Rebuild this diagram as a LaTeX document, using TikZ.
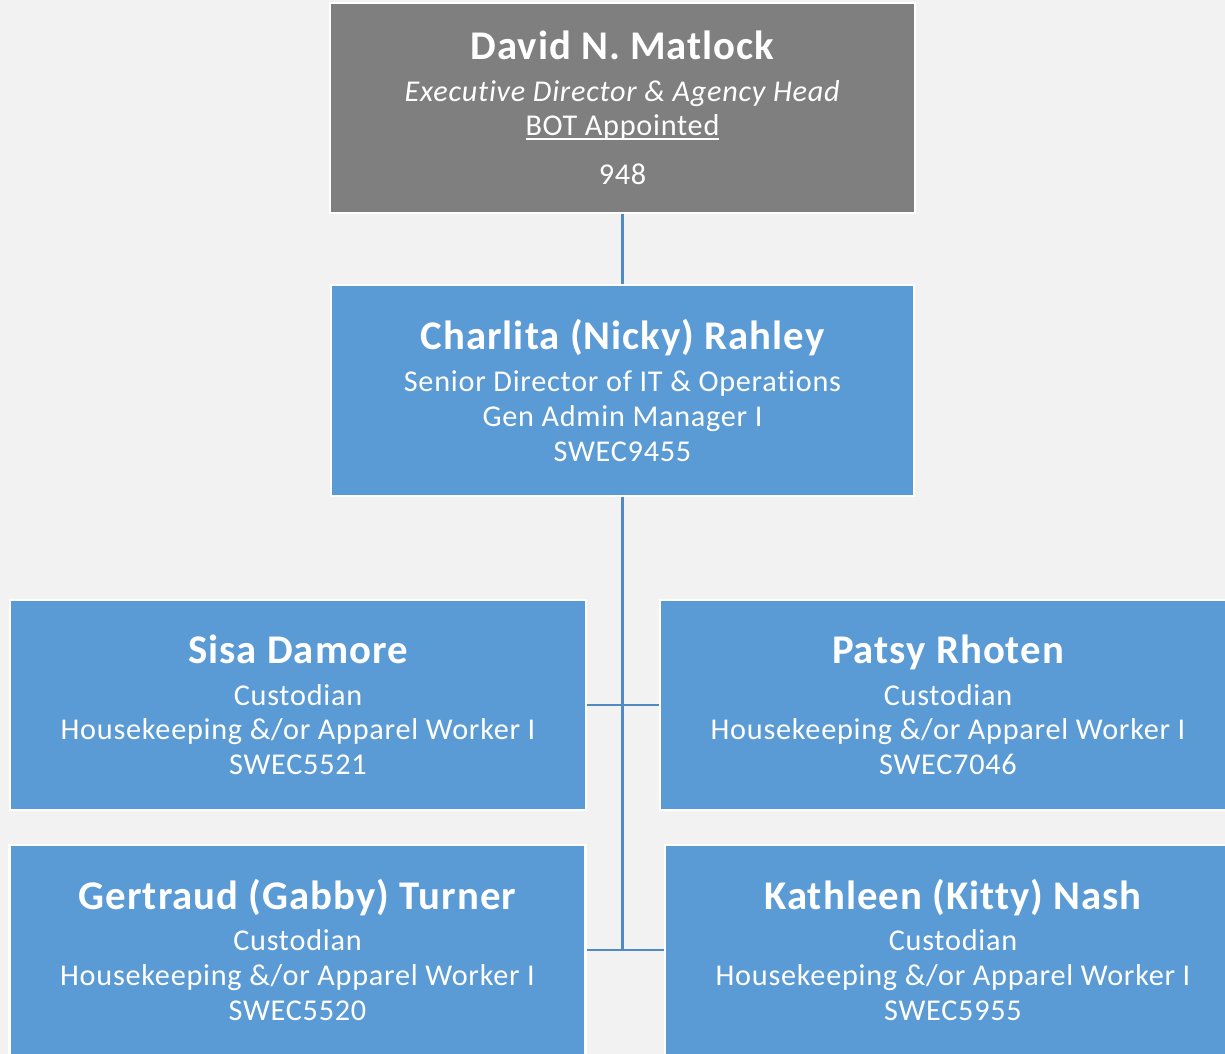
\documentclass[tikz,border=0pt]{standalone}
\usepackage{fontspec}
\setmainfont{Carlito}[LetterSpace=2.5, Ligatures=NoCommon]
\usepackage{xcolor}
\usetikzlibrary{positioning}
\definecolor{bgGray}{HTML}{F2F2F2}
\definecolor{headGray}{HTML}{7F7F7F}
\definecolor{staffBlue}{HTML}{5B9BD5}
\definecolor{linkBlue}{RGB}{80,137,196}
\newcommand{\pname}[1]{{\fontsize{23.2}{27}\selectfont\bfseries #1}\\[3.8pt]}
\newcommand{\botline}[1]{\setbox0\hbox{#1}\rlap{\rule[-2.2pt]{\wd0}{0.75pt}}\box0}

\begin{document}
\begin{tikzpicture}[
  orgbox/.style={draw=white, line width=1.3pt, fill=staffBlue, text=white,
    align=center, inner sep=0pt, minimum width=11.52cm, minimum height=4.2cm,
    font=\fontsize{17.2}{19.8}\selectfont},
  headbox/.style={orgbox, fill=headGray, minimum width=11.7cm},
  link/.style={draw=linkBlue, line width=1.7pt}]
\fill [bgGray] (0,0) rectangle (24.5,-21.08);
\useasboundingbox (0,0) rectangle (24.5,-21.08);
\clip (0,0) rectangle (24.5,-21.08);

\node [headbox] (matlock) at (12.45,-2.16) {\pname{David N. Matlock}
  \textit{Executive Director \& Agency Head}\\
  \botline{BOT Appointed}\\[8pt]
  948};
\node [orgbox, minimum width=11.66cm, minimum height=4.22cm] (rahley) at (12.45,-7.81) {\pname{Charlita (Nicky) Rahley}
  Senior Director of IT \& Operations\\
  Gen Admin Manager I\\
  SWEC9455};

\node [orgbox] (damore) at (5.96,-14.1) {\pname{Sisa Damore}
  Custodian\\
  Housekeeping \&/or Apparel Worker I\\
  SWEC5521};
\node [orgbox] (rhoten) at (18.96,-14.1) {\pname{Patsy Rhoten}
  Custodian\\
  Housekeeping \&/or Apparel Worker I\\
  SWEC7046};
\node [orgbox] (turner) at (5.95,-19.0) {\pname{Gertraud (Gabby) Turner}
  Custodian\\
  Housekeeping \&/or Apparel Worker I\\
  SWEC5520};
\node [orgbox] (nash) at (19.06,-19.0) {\pname{Kathleen (Kitty) Nash}
  Custodian\\
  Housekeeping \&/or Apparel Worker I\\
  SWEC5955};

\draw [link] (matlock.south) -- (rahley.north);
\draw [link] (rahley.south) -- (rahley.south |- turner.east);
\draw [link] (damore.east) -- (rhoten.west);
\draw [link] (turner.east) -- (nash.west);
\end{tikzpicture}
\end{document}
